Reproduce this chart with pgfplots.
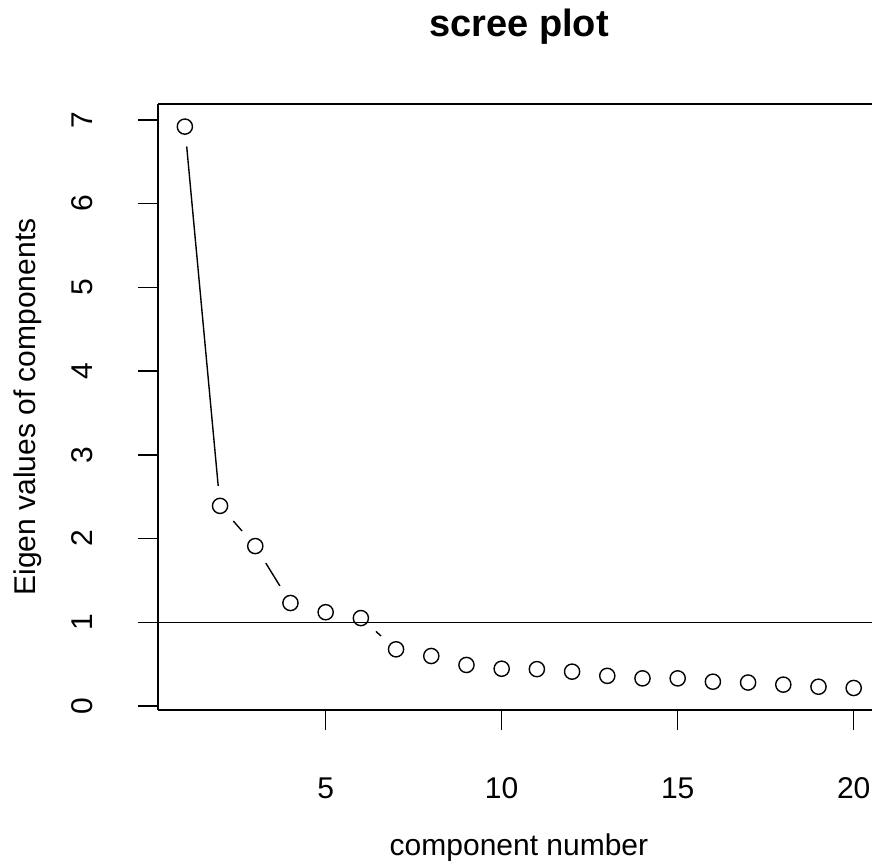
\documentclass[border=0pt]{standalone}
\usepackage{pgfplots}
\pgfplotsset{compat=1.18}
\usepackage{fontspec}
\setmainfont{Liberation Sans}
\usetikzlibrary{calc}

% eigen values
\pgfplotstableread{
k ev
1 6.92
2 2.39
3 1.91
4 1.23
5 1.12
6 1.05
7 0.677
8 0.597
9 0.49
10 0.445
11 0.44
12 0.41
13 0.36
14 0.33
15 0.33
16 0.29
17 0.28
18 0.255
19 0.23
20 0.215
}\eigs

\begin{document}
\begin{tikzpicture}
\begin{axis}[%
    ,scale only axis
    ,width=356.95pt, height=303pt
    ,xmin=0.24, xmax=20.52
    ,ymin=-0.048, ymax=7.19
    ,clip marker paths=true
    ,axis x line*=box, axis y line*=left
    ,axis line style={line width=0.7pt}
    ,xtick={5,10,15,20}, ytick={0,1,...,7}
    ,xtick pos=left, ytick pos=left
    ,tick align=outside, major tick length=10pt
    ,every tick/.style={line width=0.7pt, black}
    ,/pgf/number format/assume math mode=true
    ,tick label style={font=\fontsize{15}{17}\selectfont}
    ,xticklabel style={anchor=base, yshift=-34pt}
    ,yticklabel style={anchor=base, xshift=-23pt, rotate=90}
    ,title={\textbf{scree plot}}
    ,every axis title/.style={at={(axis description cs:0.5055,1)}, anchor=base, yshift=33.5pt, font=\fontsize{19}{22}\selectfont}
    ,xlabel={component number}
    ,every axis x label/.style={at={(axis description cs:0.5055,0)}, anchor=base, yshift=-72.5pt, font=\fontsize{15}{17}\selectfont}
    ,ylabel={Eigen values of components}
    ,every axis y label/.style={at={(axis description cs:0,0.5)}, anchor=base, xshift=-61.5pt, rotate=90, font=\fontsize{15}{17}\selectfont}
    ]
    \addplot[black, line width=0.7pt, no marks] table[x=k, y=ev] {\eigs};
    % gaps round the points, as in type="b"
    \addplot[white, only marks, mark=*, mark size=9.8pt] table[x=k, y=ev] {\eigs};
    \addplot[black, line width=0.7pt, no marks] coordinates {(0.24,1) (20.52,1)};
    \addplot[black, only marks, mark=o, mark size=3.8pt, mark options={line width=0.7pt}] table[x=k, y=ev] {\eigs};
    \coordinate (sw) at (rel axis cs:0,0);
    \coordinate (ne) at (rel axis cs:1,1);
\end{axis}
\pgfresetboundingbox
\path[use as bounding box] ($(sw)+(-79.05pt,-75.5pt)$) rectangle ($(ne)+(0,52pt)$);
\end{tikzpicture}
\end{document}
